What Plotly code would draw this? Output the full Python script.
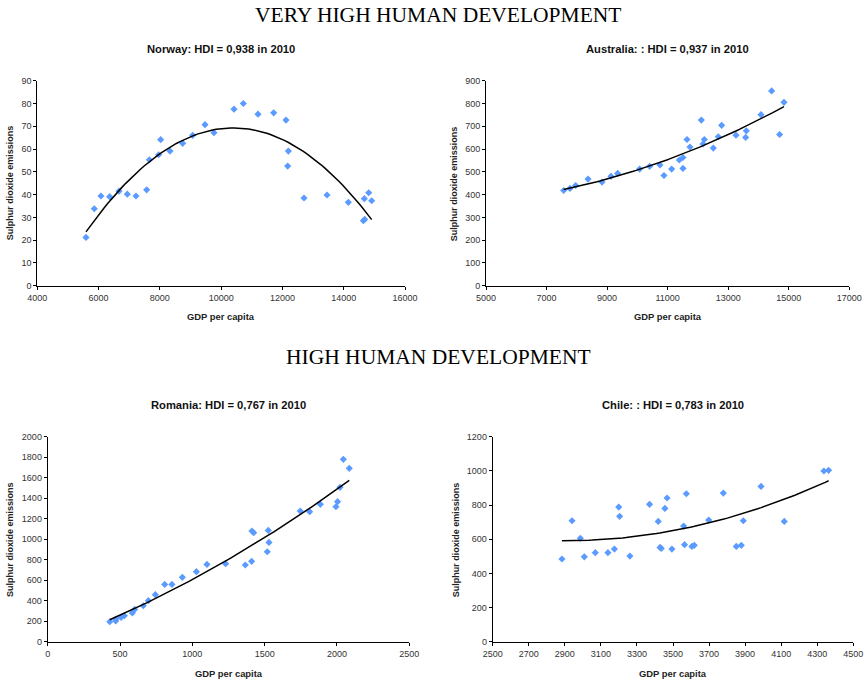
import numpy as np
import plotly.graph_objects as go

# ---------------- data ----------------
norway_gdp = [5588, 5860, 6078, 6361, 6666, 6938, 7220, 7569, 7656, 7960, 8026, 8330, 8744, 9070,
              9473, 9766, 10419, 10724, 11203, 11714, 12116, 12193, 12171, 12704, 13455, 14151,
              14641, 14684, 14673, 14815, 14913]
norway_so2 = [21.2, 33.8, 39.4, 39.1, 41.5, 40.2, 39.4, 42.1, 55.3, 57.5, 64.1, 59.1, 62.5, 66.0,
              70.7, 67.2, 77.5, 80.0, 75.3, 75.9, 72.7, 59.1, 52.5, 38.5, 39.8, 36.6,
              28.5, 29.1, 38.2, 40.8, 37.3]

australia_gdp = [7565, 7774, 7961, 8369, 8831, 9128, 9348, 10075, 10405, 10746, 10878, 11132, 11385,
                 11506, 11506, 11638, 11737, 12112, 12167, 12211, 12508, 12673, 12783, 13257, 13576,
                 13598, 14082, 14435, 14699, 14842]
australia_so2 = [418, 427, 440, 468, 455, 480, 493, 512, 524, 530, 484, 512, 552,
                 563, 515, 642, 609, 727, 622, 642, 604, 654, 704, 661, 651,
                 680, 751, 855, 664, 805]

romania_gdp = [429, 470, 470, 507, 530, 585, 601, 661, 696, 744, 809, 859, 931, 1028, 1101, 1230,
               1366, 1410, 1412, 1424, 1518, 1525, 1530, 1746, 1811, 1885, 1993, 2004, 2021, 2044, 2085]
romania_so2 = [195, 221, 202, 237, 254, 280, 315, 351, 400, 459, 559, 559, 628, 683, 754, 761,
               748, 784, 1080, 1063, 878, 1086, 969, 1275, 1268, 1340, 1317, 1366, 1506, 1779, 1691]

chile_gdp = [2884, 2940, 2986, 3008, 3069, 3139, 3175, 3199, 3204, 3261, 3370, 3418, 3428, 3435,
             3455, 3467, 3494, 3559, 3564, 3574, 3605, 3618, 3698, 3779, 3851, 3879, 3890, 3988,
             4117, 4337, 4363]
chile_so2 = [484, 708, 605, 497, 521, 521, 542, 788, 734, 501, 804, 704, 552, 546,
             780, 841, 542, 677, 568, 866, 558, 564, 712, 870, 558, 564, 708, 909,
             704, 999, 1003]

titles = ["Norway: HDI = 0,938 in 2010", "Australia: : HDI = 0,937 in 2010",
          "Romania: HDI = 0,767 in 2010", "Chile: : HDI = 0,783 in 2010"]
section_titles = ["VERY HIGH HUMAN DEVELOPMENT", "HIGH HUMAN DEVELOPMENT"]
x_title = "GDP per capita"
y_title = "Sulphur dioxide emissions"

panels = [
    dict(x=norway_gdp, y=norway_so2, xr=[4000, 16000], xd=2000, yr=[0, 90], yd=10),
    dict(x=australia_gdp, y=australia_so2, xr=[5000, 17000], xd=2000, yr=[0, 900], yd=100),
    dict(x=romania_gdp, y=romania_so2, xr=[0, 2500], xd=500, yr=[0, 2000], yd=200),
    dict(x=chile_gdp, y=chile_so2, xr=[2500, 4500], xd=200, yr=[0, 1200], yd=200),
]

W, H = 865, 681
# plot areas in pixels: (x0, x1, ytop, ybottom)
areas = [(37.3, 405, 80.7, 285.7), (486, 849.3, 80.7, 285.7),
         (47.7, 409.3, 436.7, 641.7), (492.7, 853.3, 436.7, 641.7)]
title_y = [49, 49, 405, 405]
xtitle_y = [316, 316, 673, 673]
ytitle_x = [10, 454, 10.7, 456]

FONT = "Liberation Sans, Arial, sans-serif"
SERIF = "Liberation Serif, Times New Roman, serif"
fig = go.Figure()
layout = dict(width=W, height=H, margin=dict(l=0, r=0, t=0, b=0, autoexpand=False),
              paper_bgcolor="white", plot_bgcolor="white", showlegend=False,
              font=dict(family=FONT, size=9, color="#222"))
annotations = []


def px(xp, yp):
    return xp / W, 1 - yp / H


for i, (p, a) in enumerate(zip(panels, areas)):
    n = "" if i == 0 else str(i + 1)
    xa, ya = "x" + n, "y" + n
    x = np.array(p["x"], dtype=float)
    y = np.array(p["y"], dtype=float)
    coef = np.polyfit(x, y, 2)
    xt = np.linspace(x.min(), x.max(), 80)
    yt = np.polyval(coef, xt)
    fig.add_trace(go.Scatter(x=x, y=y, mode="markers", xaxis=xa, yaxis=ya,
                             marker=dict(symbol="diamond", size=5.5, color="#5B9BFF",
                                         line=dict(width=0)), cliponaxis=False))
    fig.add_trace(go.Scatter(x=xt, y=yt, mode="lines", xaxis=xa, yaxis=ya,
                             line=dict(color="black", width=1.5)))
    x0, x1, yt_, yb = a
    common = dict(showgrid=False, zeroline=False, showline=True, linecolor="black",
                  linewidth=1, ticks="outside", ticklen=3, tickcolor="black",
                  automargin=False, tickformat="d",
                  tickfont=dict(size=9, color="#333"))
    layout["xaxis" + n] = dict(domain=[x0 / W, x1 / W], range=p["xr"], dtick=p["xd"],
                               tick0=p["xr"][0], anchor=ya, **common)
    layout["yaxis" + n] = dict(domain=[1 - yb / H, 1 - yt_ / H], range=p["yr"], dtick=p["yd"],
                               anchor=xa, **common)
    tx, ty = px((x0 + x1) / 2, title_y[i])
    annotations.append(dict(text="<b>" + titles[i] + "</b>", x=tx, y=ty,
                            xref="paper", yref="paper", showarrow=False,
                            font=dict(size=11.2, color="#111"), xanchor="center", yanchor="middle"))
    gx, gy = px((x0 + x1) / 2, xtitle_y[i])
    annotations.append(dict(text="<b>" + x_title + "</b>", x=gx, y=gy,
                            xref="paper", yref="paper", showarrow=False,
                            font=dict(size=9.4, color="#222"), xanchor="center", yanchor="middle"))
    sx, sy = px(ytitle_x[i], (yt_ + yb) / 2)
    annotations.append(dict(text="<b>" + y_title + "</b>", x=sx, y=sy, textangle=-90,
                            xref="paper", yref="paper", showarrow=False,
                            font=dict(size=9, color="#222"), xanchor="center", yanchor="middle"))

for txt, yp in zip(section_titles, [15, 357]):
    sx, sy = px(438, yp)
    annotations.append(dict(text=txt, x=sx, y=sy, xref="paper", yref="paper",
                            showarrow=False, font=dict(family=SERIF, size=21.5, color="black"),
                            xanchor="center", yanchor="middle"))
layout["annotations"] = annotations
fig.update_layout(**layout)
fig.write_html("out.html", config={"displayModeBar": False},
               post_script="document.body.style.margin='0';document.body.style.padding='0';")
